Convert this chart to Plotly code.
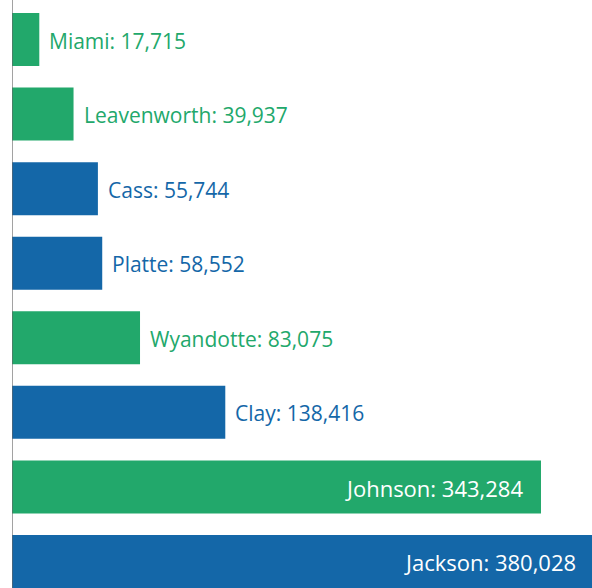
import plotly.graph_objects as go

counties = ["Jackson", "Johnson", "Clay", "Wyandotte", "Platte", "Cass", "Leavenworth", "Miami"]
population = [380028, 343284, 138416, 83075, 58552, 55744, 39937, 17715]
state = ["MO", "KS", "MO", "KS", "MO", "MO", "KS", "KS"]

GREEN = "#22a86b"
BLUE = "#1467a8"
colors = [GREEN if s == "KS" else BLUE for s in state]
labels = [f"{c}: {v:,}" for c, v in zip(counties, population)]

fig = go.Figure()
fig.add_trace(go.Bar(
    x=population, y=counties, orientation="h",
    marker=dict(color=colors, line=dict(width=0)),
    width=0.711, hoverinfo="skip",
))

INSIDE_MIN = 300000
for c, v, lab, col in zip(counties, population, labels, colors):
    inside = v > INSIDE_MIN
    fig.add_annotation(
        x=v, y=c, xref="x", yref="y", text=lab, showarrow=False,
        xanchor="right" if inside else "left",
        xshift=(-20 if v > 370000 else -16) if inside else 8,
        yshift=-1,
        font=dict(family="Open Sans", size=22 if inside else 21,
                  color="white" if inside else col),
    )

fig.add_shape(type="line", xref="x", yref="paper", x0=0, x1=0, y0=0, y1=1,
              line=dict(color="rgba(100,100,100,0.6)", width=2), layer="above")

fig.update_layout(
    width=598, height=588,
    margin=dict(l=12, r=0, t=0, b=0),
    plot_bgcolor="white", paper_bgcolor="white",
    showlegend=False,
    xaxis=dict(range=[0, 380280], visible=False, fixedrange=True),
    yaxis=dict(categoryorder="array", categoryarray=counties,
               range=[-0.356, 7.53], visible=False, fixedrange=True),
)

fig.write_html(
    "out.html",
    config={"displayModeBar": False},
    post_script="document.body.style.margin='0';document.body.style.overflow='hidden';",
)
